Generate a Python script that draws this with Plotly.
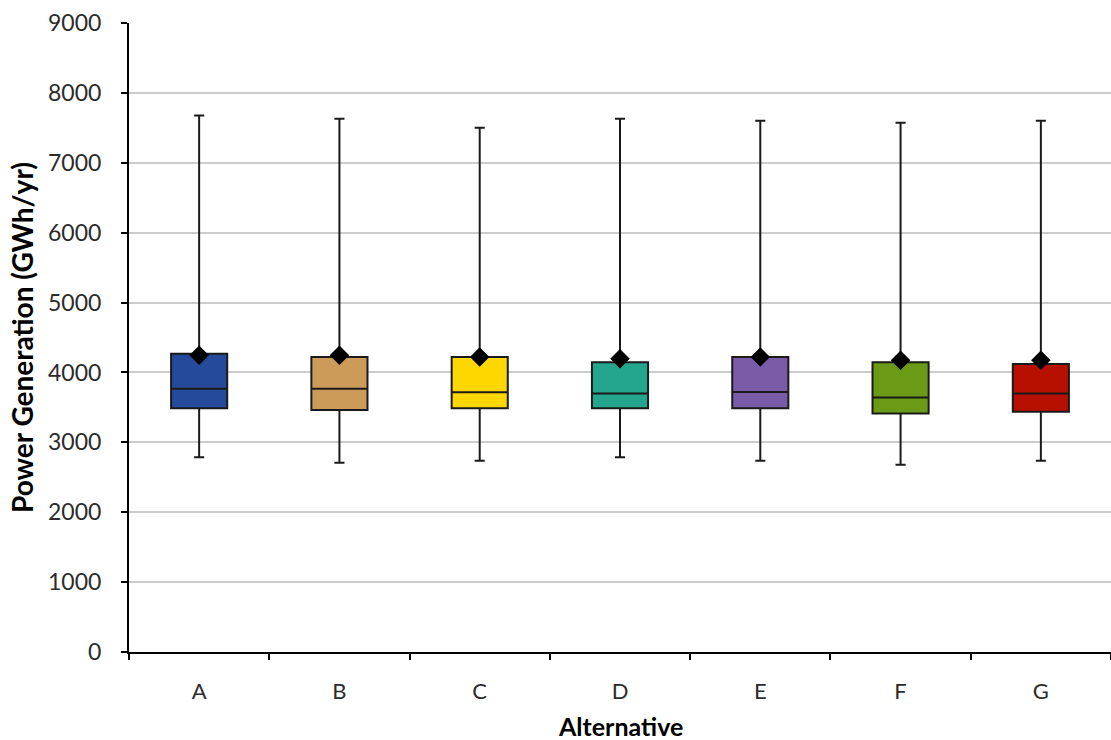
import plotly.graph_objects as go

# Power generation statistics per alternative (GWh/yr)
alternatives = ["A", "B", "C", "D", "E", "F", "G"]
minimum = [2785, 2709, 2738, 2785, 2738, 2681, 2738]
q1 = [3486, 3462, 3486, 3486, 3486, 3411, 3439]
median = [3768, 3768, 3715, 3697, 3720, 3640, 3697]
q3 = [4269, 4220, 4220, 4145, 4220, 4145, 4120]
maximum = [7678, 7631, 7502, 7631, 7602, 7574, 7602]
mean = [4245, 4245, 4220, 4197, 4220, 4173, 4173]
colors = ["#254A9C", "#CC9B5A", "#FFD700", "#24A58E", "#7A5BA8", "#6A9A16", "#B81000"]

FONT = "Lato, 'Open Sans', sans-serif"
TEXT = "#2b2b2b"

fig = go.Figure()
for i, name in enumerate(alternatives):
    fig.add_trace(go.Box(
        x=[name],
        q1=[q1[i]], median=[median[i]], q3=[q3[i]],
        lowerfence=[minimum[i]], upperfence=[maximum[i]],
        fillcolor=colors[i],
        line=dict(color="#1a1a1a", width=2),
        whiskerwidth=0.18,
        width=0.4,
        boxpoints=False,
        showlegend=False,
        hoverinfo="skip",
    ))

fig.add_trace(go.Scatter(
    x=alternatives, y=mean, mode="markers",
    marker=dict(symbol="diamond", size=15, color="black"),
    showlegend=False, cliponaxis=False,
))

# x-axis title placed below the category labels
fig.add_annotation(
    text="<b>Alternative</b>", xref="paper", yref="paper",
    x=0.5, y=-0.117, xanchor="center", yanchor="middle",
    showarrow=False, borderpad=0, font=dict(size=25, color="black"),
)

fig.update_layout(
    width=1111, height=740,
    margin=dict(l=129, r=0, t=23, b=88),
    paper_bgcolor="white", plot_bgcolor="white",
    font=dict(family=FONT, size=22, color=TEXT),
    xaxis=dict(
        type="category",
        categoryorder="array", categoryarray=alternatives,
        range=[-0.5, 6.5],
        automargin=False,
        showline=True, linecolor="black", linewidth=2,
        ticks="outside", tickson="boundaries", ticklen=6, tickwidth=2, tickcolor="black",
        showgrid=False,
        tickfont=dict(size=22, color=TEXT),
        ticklabelstandoff=19,
    ),
    yaxis=dict(
        range=[0, 9000], dtick=1000,
        automargin=False,
        showline=True, linecolor="black", linewidth=2,
        ticks="outside", ticklen=6, tickwidth=2, tickcolor="black",
        showgrid=True, gridcolor="#cccccc", gridwidth=1.5,
        zeroline=False,
        tickfont=dict(size=23, color=TEXT),
        ticklabelstandoff=15,
        title=dict(text="<b>Power Generation (GWh/yr)</b>", font=dict(size=28, color="black"), standoff=6),
    ),
)

fig.write_html("out.html")
